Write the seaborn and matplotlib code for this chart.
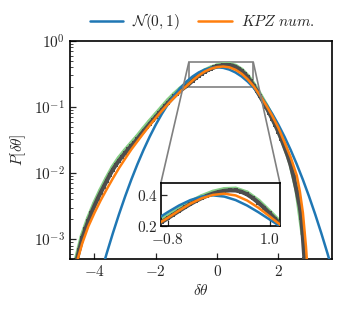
import matplotlib
matplotlib.use("Agg")
import matplotlib.pyplot as plt
import seaborn as sns
import pandas as pd
from mpl_toolkits.axes_grid1.inset_locator import mark_inset

# ---------------- data ----------------
gauss_x = [-4.0, -3.8, -3.6, -3.4, -3.2, -3.0, -2.8, -2.6, -2.4, -2.2, -2.0, -1.8, -1.6,
           -1.4, -1.2, -1.0, -0.8, -0.6, -0.4, -0.2, 0.0, 0.2, 0.4, 0.6, 0.8, 1.0, 1.2,
           1.4, 1.6, 1.8, 2.0, 2.2, 2.4, 2.6, 2.8, 3.0, 3.2, 3.4, 3.6, 3.8, 4.0]
gauss_y = [0.000134, 0.000292, 0.000612, 0.00123, 0.00238, 0.00443, 0.00792, 0.01358,
           0.02239, 0.03547, 0.05399, 0.07895, 0.11092, 0.14973, 0.19419, 0.24197,
           0.28969, 0.33322, 0.36827, 0.39104, 0.39894, 0.39104, 0.36827, 0.33322,
           0.28969, 0.24197, 0.19419, 0.14973, 0.11092, 0.07895, 0.05399, 0.03547,
           0.02239, 0.01358, 0.00792, 0.00443, 0.00238, 0.00123, 0.000612, 0.000292,
           0.000134]

kpz_x = [-4.6, -4.4, -4.2, -4.0, -3.8, -3.6, -3.4, -3.2, -3.0, -2.8, -2.6, -2.4, -2.2,
         -2.0, -1.8, -1.6, -1.4, -1.2, -1.0, -0.8, -0.6, -0.4, -0.2, 0.0, 0.2, 0.4,
         0.6, 0.8, 1.0, 1.2, 1.4, 1.6, 1.8, 2.0, 2.2, 2.4, 2.6, 2.7, 2.8, 2.9, 3.0]
kpz_y = [0.00041, 0.00086, 0.00156, 0.0025, 0.00385, 0.0057, 0.0083, 0.0119, 0.0165,
         0.0227, 0.0302, 0.0401, 0.0527, 0.0683, 0.0875, 0.1108, 0.1386, 0.171,
         0.2076, 0.252, 0.30, 0.345, 0.380, 0.402, 0.41, 0.3985, 0.366, 0.319, 0.262,
         0.204, 0.1497, 0.1066, 0.0736, 0.0484, 0.0293, 0.0174, 0.0092, 0.0053,
         0.0025, 0.00077, 0.00016]

data_x = [-4.6, -4.5, -4.4, -4.3, -4.2, -4.1, -4.0, -3.9, -3.8, -3.7, -3.6, -3.5, -3.4,
          -3.3, -3.2, -3.1, -3.0, -2.9, -2.8, -2.7, -2.6, -2.5, -2.4, -2.3, -2.2, -2.1,
          -2.0, -1.9, -1.8, -1.7, -1.6, -1.5, -1.4, -1.3, -1.2, -1.1, -1.0, -0.9, -0.8,
          -0.7, -0.6, -0.5, -0.4, -0.3, -0.2, -0.1, 0.0, 0.1, 0.2, 0.3, 0.4, 0.5, 0.6,
          0.7, 0.8, 0.9, 1.0, 1.1, 1.2, 1.3, 1.4, 1.5, 1.6, 1.7, 1.8, 1.9, 2.0, 2.1,
          2.2, 2.3, 2.4, 2.5, 2.6, 2.7, 2.75, 2.8, 2.85, 2.9]
data_y = [0.00044, 0.000677, 0.00103, 0.0014, 0.00189, 0.0025, 0.0032, 0.00404,
          0.00504, 0.00619, 0.00762, 0.00937, 0.01129, 0.01329, 0.01541, 0.01767,
          0.02014, 0.02287, 0.02577, 0.0287, 0.0329, 0.0377, 0.0430, 0.0489, 0.0556,
          0.0627, 0.0709, 0.0801, 0.0906, 0.1027, 0.1158, 0.1297, 0.1444, 0.1598,
          0.1759, 0.1923, 0.207, 0.2267, 0.250, 0.274, 0.2976, 0.3208, 0.3427, 0.3631,
          0.3814, 0.3973, 0.4107, 0.4210, 0.4283, 0.4317, 0.4309, 0.4223, 0.4058,
          0.3817, 0.3520, 0.3182, 0.2817, 0.2444, 0.2078, 0.1744, 0.1457, 0.1211,
          0.1000, 0.0818, 0.0664, 0.0532, 0.0421, 0.0326, 0.0245, 0.0185, 0.0132,
          0.0086, 0.00525, 0.00306, 0.00205, 0.00107, 0.000505, 0.00022]

green_x = [-4.6, -4.4, -4.2, -4.0, -3.8, -3.6, -3.4, -3.2, -3.0, -2.8, -2.6, -2.4, -2.2,
           -2.0, -1.8, -1.6, -1.4, -1.2, -1.0, -0.8, -0.6, -0.4, -0.2, 0.0, 0.2, 0.4,
           0.6, 0.8, 1.0, 1.2, 1.4, 1.6, 1.8, 2.0, 2.2, 2.4, 2.6, 2.8]
green_y = [0.00048, 0.00112, 0.00205, 0.00345, 0.00545, 0.00825, 0.0122, 0.0167,
           0.0218, 0.0279, 0.0356, 0.0465, 0.0601, 0.0766, 0.0978, 0.125, 0.155, 0.188,
           0.220, 0.262, 0.309, 0.353, 0.391, 0.420, 0.437, 0.440, 0.415, 0.362, 0.291,
           0.216, 0.152, 0.105, 0.0700, 0.0448, 0.0262, 0.0142, 0.0057, 0.0012]

pink_x = [-4.62, -4.55, -4.48, -4.4, -4.3, -4.2, -4.1, -4.0, -3.9, -3.8, -3.7, -3.6,
          -3.5, 2.5, 2.6, 2.7, 2.75, 2.8, 2.85, 2.88]
pink_y = [0.00046, 0.00057, 0.00074, 0.00105, 0.00145, 0.0019, 0.0026, 0.0033, 0.0042,
          0.0052, 0.0064, 0.0079, 0.0097, 0.0095, 0.0058, 0.0035, 0.0024, 0.00135,
          0.00066, 0.0005]

legend_labels = [r"$\mathcal{N}(0,1)$", r"$KPZ\ num.$"]

# ---------------- style ----------------
sns.set_style("ticks")
FS = 11
plt.rcParams.update({
    "font.family": "serif",
    "font.serif": ["cmr10", "DejaVu Serif"],
    "mathtext.fontset": "cm",
    "axes.formatter.use_mathtext": True,
    "font.size": FS,
    "axes.unicode_minus": True,
})

BLUE = "#1f77b4"
ORANGE = "#ff7f0e"
GRAY = "#4d4d4d"
GREEN = "#86cf86"
PINK = "#e05fc0"

gauss = pd.DataFrame({"x": gauss_x, "y": gauss_y})
kpz = pd.DataFrame({"x": kpz_x, "y": kpz_y})
data = pd.DataFrame({"x": data_x, "y": data_y})
green = pd.DataFrame({"x": green_x, "y": green_y})
pink = pd.DataFrame({"x": pink_x, "y": pink_y})

fig = plt.figure(figsize=(3.43, 3.10), dpi=100)
ax = fig.add_axes([0.204, 0.1645, 0.764, 0.7035])


def draw(a, small=False):
    sns.scatterplot(data=green, x="x", y="y", ax=a, color=GREEN, s=10,
                    edgecolor="none", zorder=2, legend=False)
    sns.lineplot(data=green, x="x", y="y", ax=a, color=GREEN, lw=3.6, estimator=None,
                 zorder=2, legend=False)
    sns.scatterplot(data=pink, x="x", y="y", ax=a, color=PINK, s=5, marker="o",
                    edgecolor="none", zorder=2.5, legend=False)
    sns.lineplot(data=data, x="x", y="y", ax=a, color=GRAY, lw=3.0, estimator=None,
                 zorder=3, legend=False)
    sns.scatterplot(data=data, x="x", y="y", ax=a, color=GRAY, s=8, marker="s",
                    edgecolor="none", zorder=3, legend=False)
    sns.lineplot(data=gauss, x="x", y="y", ax=a, color=BLUE, lw=1.8, estimator=None,
                 zorder=4, label=legend_labels[0] if not small else None, legend=False)
    sns.lineplot(data=kpz, x="x", y="y", ax=a, color=ORANGE, lw=1.8, estimator=None,
                 zorder=5, label=legend_labels[1] if not small else None, legend=False)


draw(ax)
ax.set_yscale("log")
ax.set_xlim(-4.8, 3.75)
ax.set_ylim(5e-4, 1.0)
ax.set_xticks([-4, -2, 0, 2])
ax.set_xlabel(r"$\delta\theta$", fontsize=FS, labelpad=3)
ax.set_ylabel(r"$P[\delta\theta]$", fontsize=FS, labelpad=4)
ax.tick_params(axis="both", which="both", direction="in", top=False, right=False,
               labelsize=FS)
ax.tick_params(which="major", length=4, width=0.9)
ax.tick_params(which="minor", length=2.2, width=0.6)
for sp in ax.spines.values():
    sp.set_linewidth(1.2)
    sp.set_color("black")

# inset
axins = fig.add_axes([0.469, 0.271, 0.347, 0.139])
draw(axins, small=True)
axins.set_xlim(-0.92, 1.18)
axins.set_ylim(0.2, 0.48)
axins.set_xticks([-0.8, 1.0])
axins.set_yticks([0.2, 0.4])
axins.set_xlabel("")
axins.set_ylabel("")
axins.tick_params(axis="both", which="both", direction="in", top=False, right=False,
                  labelsize=FS, length=4, width=0.9)
axins.tick_params(axis="x", pad=4)
axins.tick_params(axis="y", pad=2)
for sp in axins.spines.values():
    sp.set_linewidth(1.2)
    sp.set_color("black")

mark_inset(ax, axins, loc1=2, loc2=1, fc="none", ec="0.5", lw=1.2)

handles, labels = ax.get_legend_handles_labels()
fig.legend(handles, labels, loc="center", bbox_to_anchor=(0.59, 0.93), ncol=2,
           frameon=False, fontsize=FS, handlelength=2.2, columnspacing=1.2,
           handletextpad=0.6)

fig.savefig("out.png", dpi=100)
